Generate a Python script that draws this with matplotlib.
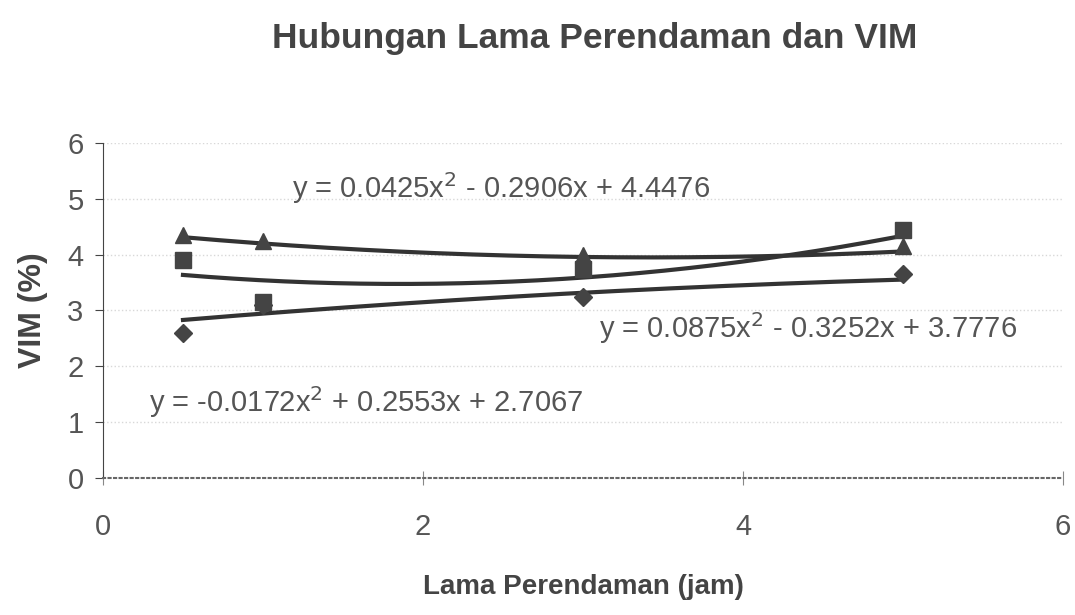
import numpy as np
import matplotlib
matplotlib.use("Agg")
import matplotlib.pyplot as plt

plt.rcParams['font.family'] = ['Liberation Sans', 'DejaVu Sans']

jam = [0.5, 1, 3, 5]
vim_belah = [2.6, 3.1, 3.25, 3.65]      # diamonds
vim_kotak = [3.9, 3.15, 3.75, 4.45]     # squares
vim_segitiga = [4.35, 4.25, 4.0, 4.15]  # triangles

coef_belah = [-0.0172, 0.2553, 2.7067]
coef_kotak = [0.0875, -0.3252, 3.7776]
coef_segitiga = [0.0425, -0.2906, 4.4476]

teks_belah = "y = -0.0172x$^2$ + 0.2553x + 2.7067"
teks_kotak = "y = 0.0875x$^2$ - 0.3252x + 3.7776"
teks_segitiga = "y = 0.0425x$^2$ - 0.2906x + 4.4476"

warna = "#333333"
abu = "#555555"

fig = plt.figure(figsize=(10.75, 6.15), dpi=100)
ax = fig.add_axes([0.0958, 0.2228, 0.893, 0.5447])

xs = np.linspace(0.5, 5, 200)
for coef in [coef_belah, coef_kotak, coef_segitiga]:
    ax.plot(xs, np.polyval(coef, xs), color=warna, lw=3, zorder=3)

ax.plot(jam, vim_belah, 'D', color='#444444', ms=9, zorder=4)
ax.plot(jam, vim_kotak, 's', color='#444444', ms=11, zorder=4)
ax.plot(jam, vim_segitiga, '^', color='#444444', ms=11, zorder=4)

ax.text(1.18, 5.2, teks_segitiga, fontsize=21, color=abu, va='center')
ax.text(3.1, 2.69, teks_kotak, fontsize=21, color=abu, va='center')
ax.text(0.29, 1.36, teks_belah, fontsize=21, color=abu, va='center')

ax.set_xlim(0, 6)
ax.set_ylim(0, 6)
ax.set_xticks([0, 2, 4, 6])
ax.set_yticks([0, 1, 2, 3, 4, 5, 6])
ax.grid(axis='y', color='#d8d8d8', ls=':', lw=1)
ax.set_axisbelow(True)
for s in ['top', 'right']:
    ax.spines[s].set_visible(False)
ax.spines['left'].set_color('#444444')
ax.spines['bottom'].set_color('#666666')
ax.spines['bottom'].set_linestyle(':')
ax.spines['bottom'].set_linewidth(1.5)
ax.tick_params(axis='y', direction='out', length=6, color='#444444', labelsize=21,
               labelcolor=abu, pad=8)
ax.tick_params(axis='x', direction='inout', length=10, color='#888888', labelsize=21,
               labelcolor=abu, pad=20)

ax.set_xlabel("Lama Perendaman (jam)", fontsize=20, fontweight='bold', color='#444444',
              labelpad=24)
ax.set_ylabel("VIM (%)", fontsize=23, fontweight='bold', color='#444444', labelpad=14)
fig.suptitle("Hubungan Lama Perendaman dan VIM", fontsize=25.5, fontweight='bold',
             color='#444444', x=0.553, y=0.965)

fig.savefig("out.png", dpi=100)
